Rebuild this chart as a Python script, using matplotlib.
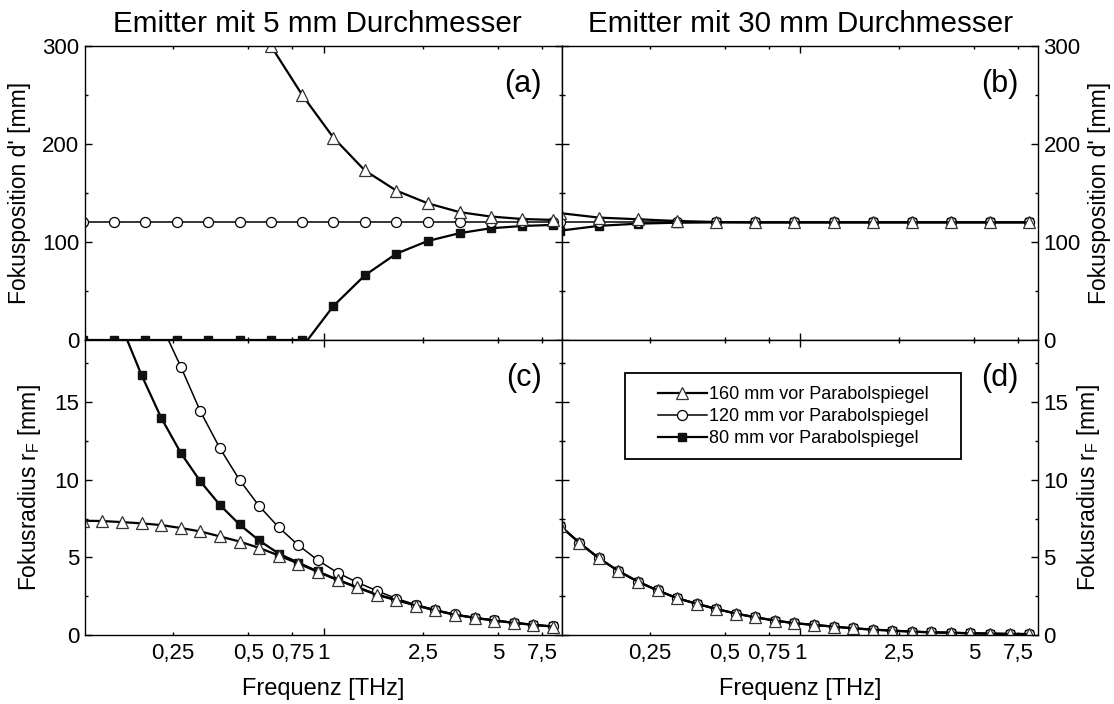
import matplotlib
matplotlib.use("Agg")
import matplotlib.pyplot as plt
from matplotlib.patches import Rectangle
from matplotlib.ticker import FixedLocator, FuncFormatter, MultipleLocator

plt.rcParams["font.family"] = ["Liberation Sans", "DejaVu Sans"]
plt.rcParams["mathtext.default"] = "regular"

# panel (a): emitter 5 mm, focus position d'
freq_a = [0.1085, 0.1448, 0.1934, 0.2585, 0.345, 0.461, 0.616, 0.823,
          1.095, 1.463, 1.953, 2.61, 3.50, 4.66, 6.22, 8.31]
tri_a = [None, None, None, None, None, 370, 300, 249.7,
         206.5, 173.0, 152.5, 139.5, 130.5, 126.0, 123.5, 122.5]
circ_a = [120] * 16
# square curve leaves zero at ~0.863 THz (kink point, no marker)
freq_a_sq = [0.1085, 0.1448, 0.1934, 0.2585, 0.345, 0.461, 0.616, 0.823, 0.863,
             1.095, 1.463, 1.953, 2.61, 3.50, 4.66, 6.22, 8.31]
sq_a = [0, 0, 0, 0, 0, 0, 0, 0, 0,
        34.7, 66.0, 88.0, 101.0, 109.0, 114.0, 116.3, 117.5]

# panel (b): emitter 30 mm, focus position d'
freq_b = [0.1088, 0.1562, 0.224, 0.3215, 0.461, 0.662, 0.950, 1.363,
          1.955, 2.805, 4.025, 5.77, 8.29]
tri_b = [129.5, 124.9, 123.2, 121.4, 120.4, 120, 120, 120, 120, 120, 120, 120, 120]
circ_b = [120] * 13
sq_b = [111.5, 116.5, 118.7, 119.7, 120, 120, 120, 120, 120, 120, 120, 120, 120]

# panels (c), (d): focus radius r_F
freq_cd = [0.1088, 0.1303, 0.1562, 0.187, 0.224, 0.2685, 0.3215, 0.385, 0.461,
           0.552, 0.662, 0.793, 0.950, 1.138, 1.363, 1.633, 1.955, 2.342, 2.805,
           3.36, 4.025, 4.82, 5.77, 6.92, 8.29]
tri_c = [7.36, 7.34, 7.27, 7.19, 7.08, 6.89, 6.67, 6.35, 6.02, 5.61, 5.12, 4.60,
         4.06, 3.54, 3.06, 2.59, 2.24, 1.90, 1.58, 1.30, 1.10, 0.93, 0.78, 0.65, 0.54]
circ_c = [None, None, None, None, 20.0, 17.27, 14.4, 12.02, 9.99, 8.31, 6.93, 5.78,
          4.81, 4.01, 3.39, 2.85, 2.35, 1.95, 1.62, 1.33, 1.12, 0.95, 0.80, 0.66, 0.55]
sq_c = [None, None, 19.8, 16.73, 13.99, 11.72, 9.89, 8.37, 7.12, 6.09, 5.24, 4.66,
        4.09, 3.56, 3.08, 2.61, 2.26, 1.92, 1.59, 1.31, 1.11, 0.94, 0.79, 0.66, 0.55]
tri_d = [7.05, 5.94, 4.94, 4.12, 3.43, 2.87, 2.37, 2.01, 1.68, 1.38, 1.14, 0.93,
         0.76, 0.65, 0.54, 0.43, 0.35, 0.28, 0.22, 0.17, 0.15, 0.11, 0.09, 0.07, 0.06]
circ_d = list(tri_d)
sq_d = list(tri_d)

x_ticks_minor = [0.25, 0.5, 0.75, 2.5, 5, 7.5]
labels = ["160 mm vor Parabolspiegel", "120 mm vor Parabolspiegel",
          "80 mm vor Parabolspiegel"]
titles = ["Emitter mit 5 mm Durchmesser", "Emitter mit 30 mm Durchmesser"]

W, H = 1114, 704


def px_box(x0, y0, x1, y1):
    return [x0 / W, 1 - y1 / H, (x1 - x0) / W, (y1 - y0) / H]


def comma(v, pos):
    return f"{v:g}".replace(".", ",")


def style_axis(ax, top_row, right_side):
    ax.set_xscale("log")
    ax.set_xlim(0.111, 9.0)
    ax.xaxis.set_major_locator(FixedLocator([0.1, 1, 10]))
    ax.xaxis.set_minor_locator(FixedLocator(x_ticks_minor))
    ax.xaxis.set_major_formatter(FuncFormatter(comma))
    ax.xaxis.set_minor_formatter(FuncFormatter(comma))
    if top_row:
        ax.set_ylim(0, 300)
        ax.yaxis.set_major_locator(MultipleLocator(100))
        ax.yaxis.set_minor_locator(MultipleLocator(50))
    else:
        ax.set_ylim(0, 19)
        ax.yaxis.set_major_locator(MultipleLocator(5))
        ax.yaxis.set_minor_locator(MultipleLocator(2.5))
    ax.tick_params(which="both", direction="in", top=True, bottom=True,
                   left=True, right=True, labelsize=16, width=1.0,
                   labelbottom=not top_row, labelleft=not right_side,
                   labelright=right_side)
    ax.tick_params(which="major", length=4.7)
    ax.tick_params(which="minor", length=2.4)
    ax.tick_params(axis="x", which="both", pad=6)
    ax.tick_params(axis="y", which="both", pad=4)
    for s in ax.spines.values():
        s.set_linewidth(1.0)
    if right_side:
        ax.yaxis.set_label_position("right")
    if not top_row:
        ax.set_xlabel("Frequenz [THz]", fontsize=17, labelpad=10)


def draw(ax, x, tri, circ, sq, sq_x=None, sq_every=None):
    ax.plot(sq_x if sq_x else x, sq, color="black", lw=1.6, marker="s", ms=6.3,
            mfc="#111111", mec="#111111", markevery=sq_every, label=labels[2])
    ax.plot(x, circ, color="black", lw=1.1, marker="o", ms=7.2,
            mfc="white", mec="black", mew=0.9, label=labels[1])
    ax.plot(x, tri, color="black", lw=1.6, marker="^", ms=8,
            mfc="white", mec="#333333", mew=0.9, label=labels[0])


fig = plt.figure(figsize=(11.14, 7.04), dpi=100)
ax_a = fig.add_axes(px_box(85, 46, 562, 340))
ax_b = fig.add_axes(px_box(562, 46, 1038, 340))
ax_c = fig.add_axes(px_box(85, 340, 562, 635))
ax_d = fig.add_axes(px_box(562, 340, 1038, 635))

sq_a_every = [i for i in range(len(freq_a_sq)) if i != 8]
draw(ax_a, freq_a, tri_a, circ_a, sq_a, sq_x=freq_a_sq, sq_every=sq_a_every)
draw(ax_b, freq_b, tri_b, circ_b, sq_b)
draw(ax_c, freq_cd, tri_c, circ_c, sq_c)
draw(ax_d, freq_cd, tri_d, circ_d, sq_d)

style_axis(ax_a, True, False)
style_axis(ax_b, True, True)
style_axis(ax_c, False, False)
style_axis(ax_d, False, True)

ax_a.set_ylabel("Fokusposition d' [mm]", fontsize=16.5, labelpad=8)
ax_b.set_ylabel("Fokusposition d' [mm]", fontsize=16.5, labelpad=5)
ax_c.set_ylabel("Fokusradius r$_\\mathregular{F}$ [mm]", fontsize=16.5, labelpad=8)
ax_d.set_ylabel("Fokusradius r$_\\mathregular{F}$ [mm]", fontsize=16.5, labelpad=5)

for ax, letter in zip([ax_a, ax_b, ax_c, ax_d], ["(a)", "(b)", "(c)", "(d)"]):
    ax.text(0.958, 0.87, letter, transform=ax.transAxes, ha="right",
            va="center", fontsize=22)

fig.text(112.7 / W, 1 - 32 / H, titles[0], fontsize=21.3, ha="left", va="baseline")
fig.text(587.6 / W, 1 - 32 / H, titles[1], fontsize=21.3, ha="left", va="baseline")

h, l = ax_d.get_legend_handles_labels()
fig.legend(h[::-1], l[::-1], loc="upper left",
           bbox_to_anchor=(658 / W, 1 - 386 / H), frameon=False, fontsize=13,
           borderpad=0, borderaxespad=0, handlelength=2.7, handletextpad=0.1,
           labelspacing=0.28, numpoints=1)
fig.add_artist(Rectangle((625 / W, 1 - 459.3 / H), (960.5 - 625) / W,
                         (459.3 - 373.3) / H, transform=fig.transFigure,
                         fill=False, lw=1.3, ec="black"))

fig.savefig("out.png", dpi=100)
